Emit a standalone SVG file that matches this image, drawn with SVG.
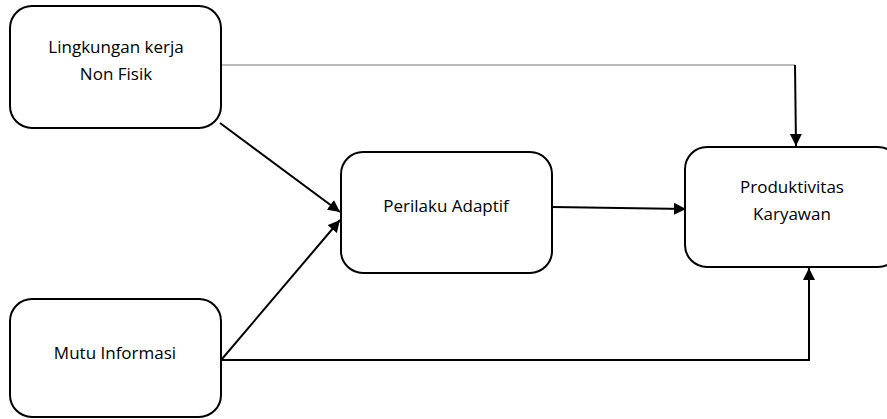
<svg xmlns="http://www.w3.org/2000/svg" width="887" height="419" viewBox="0 0 887 419">
  <style>
    .box { fill: #ffffff; stroke: #000000; stroke-width: 2; }
    .label { font-family: "Open Sans", "Liberation Sans", sans-serif; font-size: 17px; fill: #000000; text-anchor: middle; }
    .edge { fill: none; stroke: #000000; stroke-width: 2; }
    .thin { fill: none; stroke: #777777; stroke-width: 1.2; }
  </style>
  <defs>
    <marker id="arrow" viewBox="0 0 10 10" refX="10" refY="5" markerWidth="6" markerHeight="6" orient="auto" markerUnits="strokeWidth">
      <path d="M0,0 L10,5 L0,10 Z" fill="#000000"/>
    </marker>
  </defs>
  <rect width="887" height="419" fill="#ffffff"/>

  <g id="connectors">
    <!-- Lingkungan kerja -> Produktivitas (elbow) -->
    <polyline class="thin" points="222,65 795,65"/>
    <line class="edge" x1="795" y1="65" x2="796" y2="146" marker-end="url(#arrow)"/>
    <!-- Lingkungan kerja -> Perilaku Adaptif -->
    <line class="edge" x1="220" y1="123" x2="340" y2="212" marker-end="url(#arrow)"/>
    <!-- Mutu Informasi -> Perilaku Adaptif -->
    <line class="edge" x1="222" y1="359" x2="340" y2="220" marker-end="url(#arrow)"/>
    <!-- Mutu Informasi -> Produktivitas (elbow) -->
    <polyline class="edge" points="222,360 809,360 809,268" marker-end="url(#arrow)"/>
    <!-- Perilaku Adaptif -> Produktivitas -->
    <line class="edge" x1="553" y1="207" x2="686" y2="209" marker-end="url(#arrow)"/>
  </g>

  <g id="node-lingkungan">
    <rect class="box" x="10" y="6" width="211" height="122" rx="22" ry="22"/>
    <text class="label" x="116" y="53">Lingkungan kerja</text>
    <text class="label" x="116" y="80">Non Fisik</text>
  </g>

  <g id="node-perilaku">
    <rect class="box" x="341" y="152" width="211" height="121" rx="22" ry="22"/>
    <text class="label" x="446" y="212">Perilaku Adaptif</text>
  </g>

  <g id="node-produktivitas">
    <rect class="box" x="685" y="147" width="215" height="120" rx="22" ry="22"/>
    <text class="label" x="792" y="193">Produktivitas</text>
    <text class="label" x="792" y="220">Karyawan</text>
  </g>

  <g id="node-mutu">
    <rect class="box" x="10" y="299" width="211" height="118" rx="22" ry="22"/>
    <text class="label" x="115" y="359">Mutu Informasi</text>
  </g>
</svg>
